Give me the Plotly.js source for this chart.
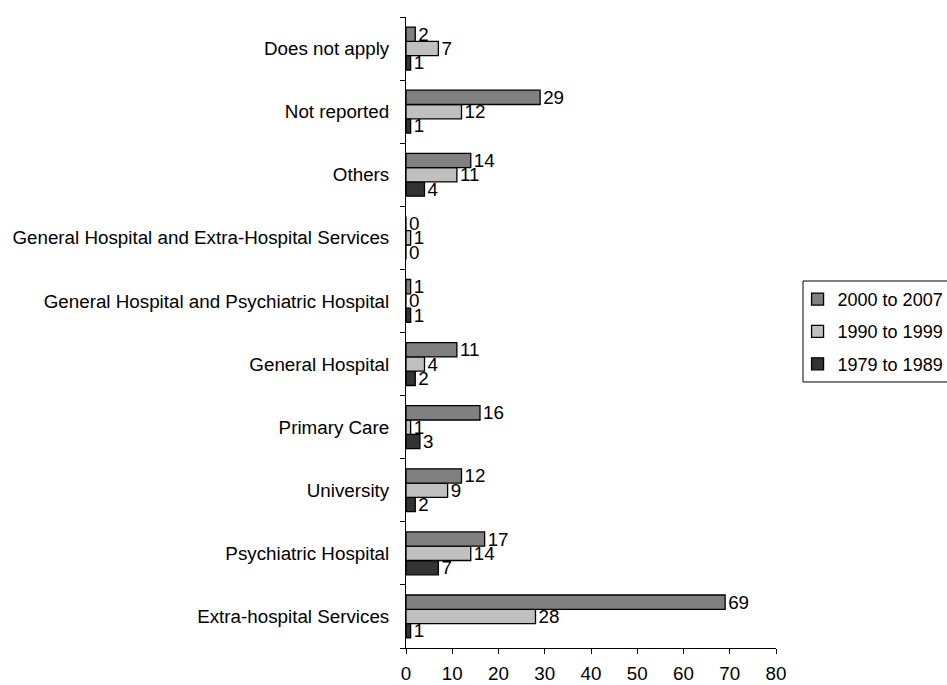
<!DOCTYPE html>
<html>
<head>
<meta charset="utf-8">
<script src="https://cdn.plot.ly/plotly-3.0.1.min.js"></script>
<style>html,body{margin:0;padding:0;background:#fff;}#chart{width:947px;height:685px;}</style>
</head>
<body>
<div id="chart"></div>
<script>
// Categories listed bottom to top
const categories = [
  "Extra-hospital Services",
  "Psychiatric Hospital",
  "University",
  "Primary Care",
  "General Hospital",
  "General Hospital and Psychiatric Hospital",
  "General Hospital and Extra-Hospital Services",
  "Others",
  "Not reported",
  "Does not apply"
];
const series2000 = [69, 17, 12, 16, 11, 1, 0, 14, 29, 2];
const series1990 = [28, 14, 9, 1, 4, 0, 1, 11, 12, 7];
const series1979 = [1, 7, 2, 3, 2, 1, 0, 4, 1, 1];
const seriesNames = ["1979 to 1989", "1990 to 1999", "2000 to 2007"];
const xTicks = [0, 10, 20, 30, 40, 50, 60, 70, 80];

const colors = ["#333333", "#c0c0c0", "#808080"];
const seriesData = [series1979, series1990, series2000];
const FS = 18.8;
const FONT = "Liberation Sans, Arial, sans-serif";

const traces = seriesData.map((vals, i) => ({
  type: "bar",
  orientation: "h",
  name: seriesNames[i],
  legendgroup: "g" + i,
  legendrank: 3 - i,
  y: categories,
  x: vals,
  text: vals.map(String),
  textposition: "outside",
  constraintext: "none",
  cliponaxis: false,
  textfont: {family: FONT, size: FS, color: "#000"},
  marker: {color: colors[i], line: {color: "#000", width: 1.3}},
  hoverinfo: "x+y+name"
}));

const layout = {
  width: 947,
  height: 685,
  margin: {l: 406, r: 171, t: 17, b: 37, pad: 0},
  paper_bgcolor: "#fff",
  plot_bgcolor: "#fff",
  font: {family: FONT, size: FS, color: "#000"},
  barmode: "group",
  bargap: 0.32,
  bargroupgap: 0,
  showlegend: true,
  legend: {
    xref: "container", yref: "container",
    x: 0.8422, y: 0.59, xanchor: "left", yanchor: "top",
    traceorder: "grouped",
    tracegroupgap: 6,
    itemwidth: 30,
    borderwidth: 0, bgcolor: "rgba(0,0,0,0)",
    font: {size: 18}
  },
  shapes: [{
    type: "rect", xref: "paper", yref: "paper",
    x0: 1.073, x1: 1.5, y0: 0.4216, y1: 0.5816,
    line: {color: "#000", width: 1}, fillcolor: "rgba(0,0,0,0)", layer: "above"
  }],
  xaxis: {
    range: [0, 80],
    tickvals: xTicks,
    ticktext: xTicks.map(String),
    showgrid: false,
    zeroline: false,
    showline: true,
    linecolor: "#000",
    linewidth: 1,
    ticks: "outside",
    ticklen: 5,
    tickcolor: "#000",
    ticklabelstandoff: 3,
    automargin: false,
    fixedrange: true
  },
  yaxis: {
    type: "category",
    categoryorder: "array",
    categoryarray: categories,
    showgrid: false,
    zeroline: false,
    showline: true,
    linecolor: "#000",
    linewidth: 1,
    ticks: "outside",
    tickson: "boundaries",
    ticklen: 5,
    tickcolor: "#000",
    ticklabelstandoff: 12,
    automargin: false,
    fixedrange: true
  }
};

Plotly.newPlot("chart", traces, layout, {displayModeBar: false, staticPlot: true});
</script>
</body>
</html>
